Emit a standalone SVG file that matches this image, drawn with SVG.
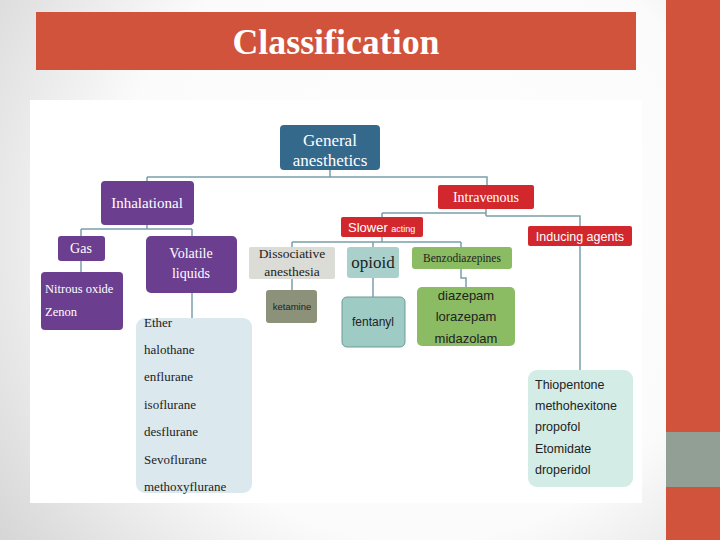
<svg xmlns="http://www.w3.org/2000/svg" width="720" height="540" viewBox="0 0 720 540">
<defs>
<radialGradient id="bg" cx="420" cy="230" r="520" gradientUnits="userSpaceOnUse">
<stop offset="0" stop-color="#ffffff"/>
<stop offset="0.6" stop-color="#fbfbfb"/>
<stop offset="1" stop-color="#d6d6d6"/>
</radialGradient>
<style>
.serif{font-family:"Liberation Serif","DejaVu Serif",serif}
.sans{font-family:"Liberation Sans","Open Sans",sans-serif}
.w{fill:#ffffff}
.d{fill:#222222}
.c{text-anchor:middle}
.pur{fill:#6b3e8f}
.red{fill:#d3272e}
.conn{fill:none;stroke:#7aa0ac;stroke-width:1.5}
</style>
</defs>
<rect x="0" y="0" width="720" height="540" fill="url(#bg)"/>
<rect x="666" y="0" width="54" height="540" fill="#d1533b"/>
<rect x="666" y="432" width="54" height="55" fill="#919f95"/>
<g id="title">
<rect x="36" y="12" width="600" height="58" fill="#d1533b"/>
<text x="336" y="54" class="serif w c" font-size="35" font-weight="bold" textLength="207" lengthAdjust="spacingAndGlyphs">Classification</text>
</g>
<rect x="30" y="100" width="612" height="403" fill="#ffffff"/>
<g id="connectors" class="conn">
<path d="M330 170 V177 M147 177 H487 V185 M147 177 V181"/>
<path d="M147 225 V229 M81 229 H192 M81 229 V236 M192 229 V236"/>
<path d="M81 261 V272"/>
<path d="M192 293 V318"/>
<path d="M486 209 V216 M382 213 H486 M382 213 V217 M486 216 H580 V226"/>
<path d="M382 237 V242 M292 242 H461 M292 242 V247 M373 242 V247 M461 242 V247"/>
<path d="M292 279 V290"/>
<path d="M373 278 V297"/>
<path d="M461 269 V278 H466 V287"/>
<path d="M580 246 V370"/>
</g>
<g id="general">
<rect x="280" y="125" width="100" height="45" rx="4" fill="#35698c"/>
<text x="330" y="146" class="serif w c" font-size="17">General</text>
<text x="330" y="166" class="serif w c" font-size="17">anesthetics</text>
</g>
<g id="inhalational">
<rect x="101" y="181" width="93" height="44" rx="4" class="pur"/>
<text x="147" y="208" class="serif w c" font-size="15">Inhalational</text>
</g>
<g id="gas">
<rect x="58" y="236" width="47" height="25" rx="3" class="pur"/>
<text x="81" y="253" class="serif w c" font-size="14">Gas</text>
</g>
<g id="nitrous">
<rect x="41" y="272" width="82" height="58" rx="4" class="pur"/>
<text x="45" y="293" class="serif w" font-size="12.5">Nitrous oxide</text>
<text x="45" y="316" class="serif w" font-size="12.5">Zenon</text>
</g>
<g id="volatile">
<rect x="146" y="236" width="91" height="57" rx="5" class="pur"/>
<text x="191" y="258" class="serif w c" font-size="14">Volatile</text>
<text x="191" y="278" class="serif w c" font-size="14">liquids</text>
</g>
<g id="ether-list">
<rect x="136" y="318" width="116" height="175" rx="9" fill="#dbe8ee"/>
<text x="144" y="327" class="serif d" font-size="13">Ether</text>
<text x="144" y="354" class="serif d" font-size="13">halothane</text>
<text x="144" y="381" class="serif d" font-size="13">enflurane</text>
<text x="144" y="409" class="serif d" font-size="13">isoflurane</text>
<text x="144" y="436" class="serif d" font-size="13">desflurane</text>
<text x="144" y="464" class="serif d" font-size="13">Sevoflurane</text>
<text x="144" y="491" class="serif d" font-size="13">methoxyflurane</text>
</g>
<g id="dissociative">
<rect x="249" y="247" width="86" height="32" rx="2" fill="#dcdcd6"/>
<text x="292" y="258" class="serif d c" font-size="13.5">Dissociative</text>
<text x="292" y="276" class="serif d c" font-size="13.5">anesthesia</text>
</g>
<g id="ketamine">
<rect x="266" y="290" width="51" height="33" rx="3" fill="#8c917a"/>
<text x="292" y="310" class="sans d c" font-size="9.5">ketamine</text>
</g>
<g id="intravenous">
<rect x="438" y="185" width="96" height="24" rx="2" class="red"/>
<text x="486" y="202" class="serif w c" font-size="14">Intravenous</text>
</g>
<g id="slower">
<rect x="341" y="217" width="82" height="20" rx="2" class="red"/>
<text x="348" y="232" class="sans w" font-size="13">Slower <tspan font-size="9">acting</tspan></text>
</g>
<g id="inducing">
<rect x="528" y="226" width="104" height="20" rx="2" class="red"/>
<text x="580" y="241" class="sans w c" font-size="12.5">Inducing agents</text>
</g>
<g id="opioid">
<rect x="347" y="247" width="52" height="31" rx="3" fill="#a9d0cb"/>
<text x="373" y="268" class="serif d c" font-size="17">opioid</text>
</g>
<g id="fentanyl">
<rect x="342" y="297" width="63" height="50" rx="5" fill="#9ecbc4" stroke="#6a9d96" stroke-width="1"/>
<text x="373" y="326" class="sans d c" font-size="12">fentanyl</text>
</g>
<g id="benzodiazepines">
<rect x="412" y="247" width="100" height="22" rx="3" fill="#8bbb63"/>
<text x="462" y="262" class="serif d c" font-size="11.5">Benzodiazepines</text>
</g>
<g id="benzo-list">
<rect x="417" y="287" width="98" height="59" rx="5" fill="#8bbb63"/>
<text x="466" y="300" class="sans d c" font-size="13">diazepam</text>
<text x="466" y="321" class="sans d c" font-size="13">lorazepam</text>
<text x="466" y="343" class="sans d c" font-size="13">midazolam</text>
</g>
<g id="inducing-list">
<rect x="528" y="370" width="105" height="117" rx="9" fill="#d3ece6"/>
<text x="535" y="389" class="sans d" font-size="12.5">Thiopentone</text>
<text x="535" y="410" class="sans d" font-size="12.5">methohexitone</text>
<text x="535" y="431" class="sans d" font-size="12.5">propofol</text>
<text x="535" y="453" class="sans d" font-size="12.5">Etomidate</text>
<text x="535" y="474" class="sans d" font-size="12.5">droperidol</text>
</g>
</svg>
